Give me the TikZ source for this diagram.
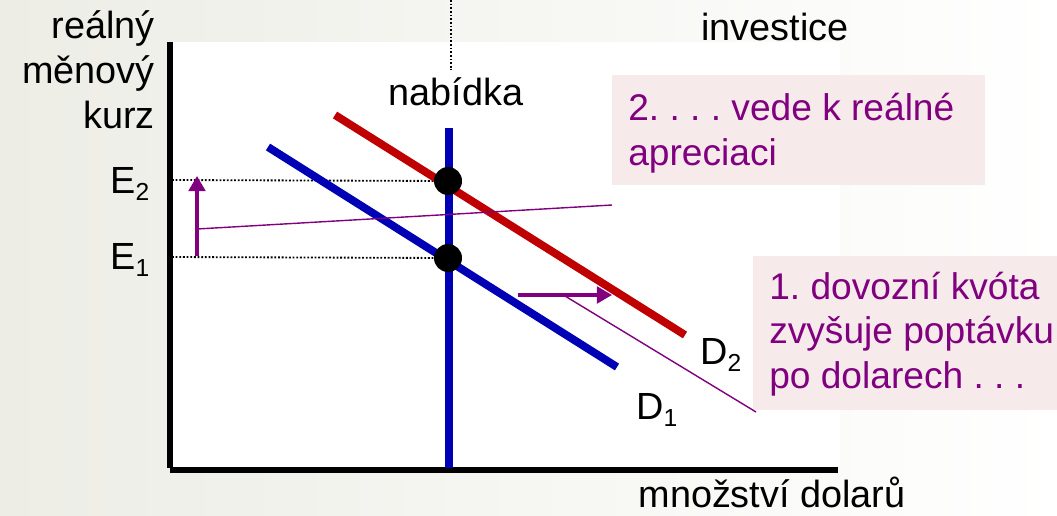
\documentclass[tikz,border=0pt]{standalone}
\usepackage{fontspec}
\setmainfont{Liberation Sans}
\usetikzlibrary{arrows.meta}
\definecolor{bggrey}{HTML}{EDEDE6}
\definecolor{curvered}{HTML}{C00000}
\definecolor{curveblue}{HTML}{0000B4}
\definecolor{notepurple}{HTML}{800080}
\definecolor{notepink}{HTML}{F7EAEB}
\newcommand{\lowdigit}[1]{\raisebox{-5pt}{\fontsize{17.5}{18}\selectfont #1}}
\frenchspacing

\begin{document}
\begin{tikzpicture}[x=0.025cm,y=-0.025cm,font=\fontsize{26.9}{31.7}\selectfont,
  lbl/.style={inner sep=0pt,anchor=base},
  axisline/.style={line width=3.6pt},
  curve/.style={line width=5.6pt},
  guide/.style={line width=1.3pt,dash pattern=on 1.3pt off 1.3pt},
  shiftarrow/.style={notepurple,line width=2.2pt,-{Triangle[length=3.8mm,width=4.2mm]}},
  pointer/.style={notepurple,line width=1pt},
  note/.style={text=notepurple,align=left,inner sep=0pt,anchor=base west,
    font=\fontsize{26.4}{31.5}\selectfont}]
\useasboundingbox (0,0) rectangle (1057,515);
% background
\shade[left color=bggrey,right color=white] (0,0) rectangle (1057,515);
\fill[white] (170,42) rectangle (840,470);
\fill[notepink] (612,75) rectangle (985,185);
\fill[notepink] (753,256) rectangle (1057,410);
% points of the graph
\coordinate (origin) at (170,470);
\coordinate (ytop) at (170,42);
\coordinate (xend) at (838,470);
\coordinate (stop) at (449,128);
\coordinate (sbot) at (449,468);
\coordinate (dtwoa) at (335,115);
\coordinate (dtwob) at (685,335);
\coordinate (donea) at (268,147);
\coordinate (doneb) at (617,367);
\coordinate (etwo) at (448,181);
\coordinate (eone) at (448,258);
\coordinate (etwoax) at (172,180);
\coordinate (eoneax) at (172,257);
\coordinate (invtop) at (451,0);
\coordinate (invbot) at (451,70);
\coordinate (uptail) at (197,256);
\coordinate (uphead) at (197,176);
\coordinate (upmid) at (197,229);
\coordinate (apprecend) at (612,205);
\coordinate (righttail) at (518,295);
\coordinate (righthead) at (612,295);
\coordinate (rightmid) at (565,296);
\coordinate (quotaend) at (756,412);
% labels
\node[lbl,anchor=base east,align=right] (ylab) at (155,128) {reálný\\měnový\\kurz};
\node[lbl,anchor=base west] (etwolab) at (110,193) {E\lowdigit{2}};
\node[lbl,anchor=base west] (eonelab) at (110,269) {E\lowdigit{1}};
\node[lbl] (supplab) at (456,105) {nabídka};
\node[lbl] (invlab) at (775,40) {investice};
\node[lbl,anchor=base west] (dtwolab) at (700,364) {D\lowdigit{2}};
\node[lbl,anchor=base west] (donelab) at (636,419) {D\lowdigit{1}};
\node[lbl] (xlab) at (772,507) {množství dolarů};
\node[note] (apprec) at (628,165) {2. . . . vede k reálné\\apreciaci};
\node[note] (quota) at (769,388) {1. dovozní kvóta\\zvyšuje poptávku\\po dolarech . . .};
% graph
\draw[guide] (invtop) -- (invbot);
\draw[guide] (etwoax) -- (etwo);
\draw[guide] (eoneax) -- (eone);
\draw[axisline] (ytop) -- (origin |- 0,468);
\draw[axisline] (origin) -- (xend);
\draw[curve,curveblue] (stop) -- (sbot);
\draw[curve,curvered] (dtwoa) -- (dtwob);
\draw[curve,curveblue] (donea) -- (doneb);
\fill (etwo) circle (14);
\fill (eone) circle (14);
\draw[shiftarrow] (uptail) -- (uphead);
\draw[pointer] (upmid) -- (apprecend);
\draw[shiftarrow] (righttail) -- (righthead);
\draw[pointer] (rightmid) -- (quotaend);
\end{tikzpicture}
\end{document}
